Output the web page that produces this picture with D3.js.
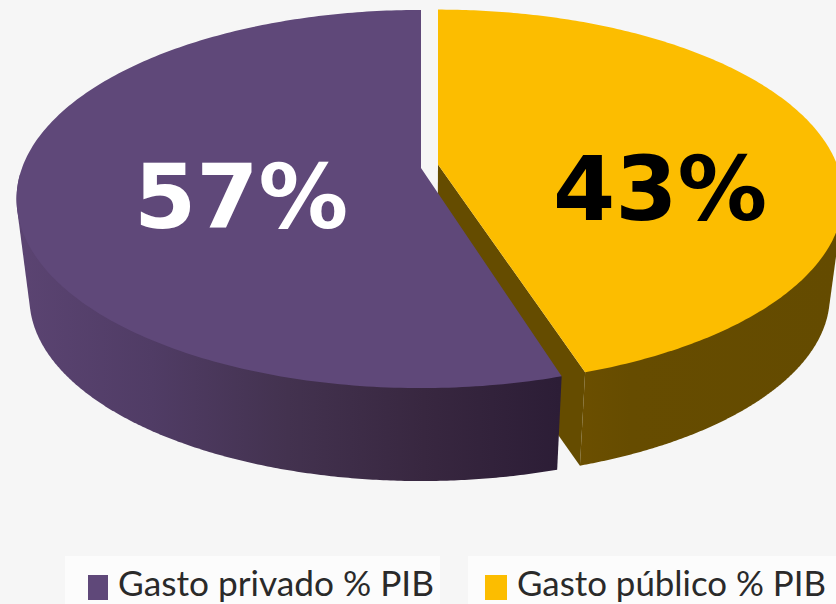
<!DOCTYPE html>
<html><head><meta charset="utf-8">
<script src="https://cdn.jsdelivr.net/npm/d3@7"></script>
<style>html,body{margin:0;padding:0;background:#f6f6f6;overflow:hidden}svg{display:block}</style>
</head><body><div id="chart"></div>
<script>
const categories = ["Gasto privado % PIB", "Gasto público % PIB"];
const values = [57, 43];
const valueLabels = ["57%", "43%"];
const topColors = ["#5f4879", "#fcbd00"];
const labelColors = ["#ffffff", "#000000"];
const legendSwatches = ["#5f4879", "#fcbd00"];

const W = 836, H = 604, TAU = Math.PI * 2;
const svg = d3.select("#chart").append("svg").attr("width", W).attr("height", H);
const defs = svg.append("defs");

// Purple rim shading
const gp = defs.append("linearGradient").attr("id", "sideP").attr("gradientUnits", "userSpaceOnUse")
  .attr("x1", 16).attr("x2", 560).attr("y1", 0).attr("y2", 0);
[[0, "#5b4472"], [0.25, "#503c65"], [0.5, "#43324f"], [0.75, "#382740"], [1, "#2c1d36"]]
  .forEach(d => gp.append("stop").attr("offset", d[0]).attr("stop-color", d[1]));
// Yellow rim shading
const gy = defs.append("linearGradient").attr("id", "sideY").attr("gradientUnits", "userSpaceOnUse")
  .attr("x1", 580).attr("x2", 836).attr("y1", 0).attr("y2", 0);
[[0, "#6b4f00"], [0.2, "#664c00"], [1, "#644b00"]]
  .forEach(d => gy.append("stop").attr("offset", d[0]).attr("stop-color", d[1]));

// The picture's perspective compresses the drawn sweep of the slices.
const sweep = d3.scaleLinear().domain([0, 0.57 * TAU, TAU]).range([0, 197.3 / 360 * TAU, TAU]);
const YELLOW_SEAM_SHIFT = -0.6 / 360 * TAU;

const arcs = d3.pie().sort(null).value(d => d).startAngle(0).endAngle(TAU)(values);

// Perspective projection of the unit disc, per slice
const cameras = [{ P: 0.164, A: 399, B: 184 }, { P: 0.175, A: 399, B: 182 }];
function project(a, o, s, cam) {
  const u = Math.sin(a), v = -Math.cos(a), w = 1 - cam.P * v;
  return [o.x + s * cam.A * u / w, o.y + s * cam.B * v / w];
}
const origins = [
  { top: { x: 421, y: 168 }, bottom: { x: 421, y: 268 } },
  { top: { x: 438, y: 164.5 }, bottom: { x: 437.5, y: 264.5 } }
];
const BOTTOM_SCALE = 0.968;
const line = d3.line();

// Signed (counter-clockwise) angular ranges from the pie layout
const ranges = [
  [-sweep(arcs[0].startAngle), -sweep(arcs[0].endAngle)],
  [-sweep(arcs[0].endAngle) + YELLOW_SEAM_SHIFT, -TAU]
];

function samples(a0, a1, n = 240) {
  return d3.range(n + 1).map(i => a0 + (a1 - a0) * i / n);
}

const g = svg.append("g");
const purpleFrontFrom = -TAU * 0.255, purpleFrontTo = ranges[0][1];

function wall(a0, a1, i, fill) {
  const o = origins[i], as = samples(a0, a1);
  const pts = as.map(a => project(a, o.top, 1, cameras[i]))
    .concat(as.map(a => project(a, o.bottom, BOTTOM_SCALE, cameras[i])));
  g.append("path").attr("d", line(d3.polygonHull(pts)) + "Z").attr("fill", fill);
}

// Yellow wall and its cut face, then purple above it
wall(ranges[1][0], -TAU * 0.745, 1, "url(#sideY)");
const oy = origins[1];
g.append("path").attr("d", line([
  [oy.top.x, oy.top.y],
  project(ranges[1][0], oy.top, 1, cameras[1]),
  project(ranges[1][0], oy.bottom, BOTTOM_SCALE, cameras[1]),
  [oy.bottom.x, oy.bottom.y]
]) + "Z").attr("fill", "#654c00");

wall(purpleFrontFrom, purpleFrontTo, 0, "url(#sideP)");

// Top faces
arcs.forEach((d, i) => {
  const o = origins[i].top;
  const pts = samples(ranges[i][0], ranges[i][1]).map(a => project(a, o, 1, cameras[i]));
  g.append("path").attr("d", line([[o.x, o.y], ...pts]) + "Z").attr("fill", topColors[i]);
});

// Value labels
const labelPos = [[241, 228], [660, 220]];
svg.selectAll("text.value").data(valueLabels).join("text").attr("class", "value")
  .attr("x", (d, i) => labelPos[i][0]).attr("y", (d, i) => labelPos[i][1])
  .attr("text-anchor", "middle")
  .attr("font-family", "'DejaVu Sans'").attr("font-weight", "bold").attr("font-size", 89.5)
  .attr("fill", (d, i) => labelColors[i]).text(d => d);

// Legend
const legendBoxes = [[65, 375], [468, 368]];
const legendSwatchX = [88, 485];
const legendSwatchW = [20, 22];
const legendTextX = [118, 517];
const legendTextW = [316, 309];
const lg = svg.append("g");
categories.forEach((c, i) => {
  lg.append("rect").attr("x", legendBoxes[i][0]).attr("y", 556).attr("width", legendBoxes[i][1]).attr("height", 48).attr("fill", "#fcfcfc");
  lg.append("rect").attr("x", legendSwatchX[i]).attr("y", 575).attr("width", legendSwatchW[i]).attr("height", 25).attr("fill", legendSwatches[i]);
  lg.append("text").attr("x", legendTextX[i]).attr("y", 596)
    .attr("font-family", "Lato").attr("font-size", 35).attr("fill", "#2a2a2a")
    .attr("textLength", legendTextW[i]).attr("lengthAdjust", "spacingAndGlyphs").text(c);
});
</script></body></html>
